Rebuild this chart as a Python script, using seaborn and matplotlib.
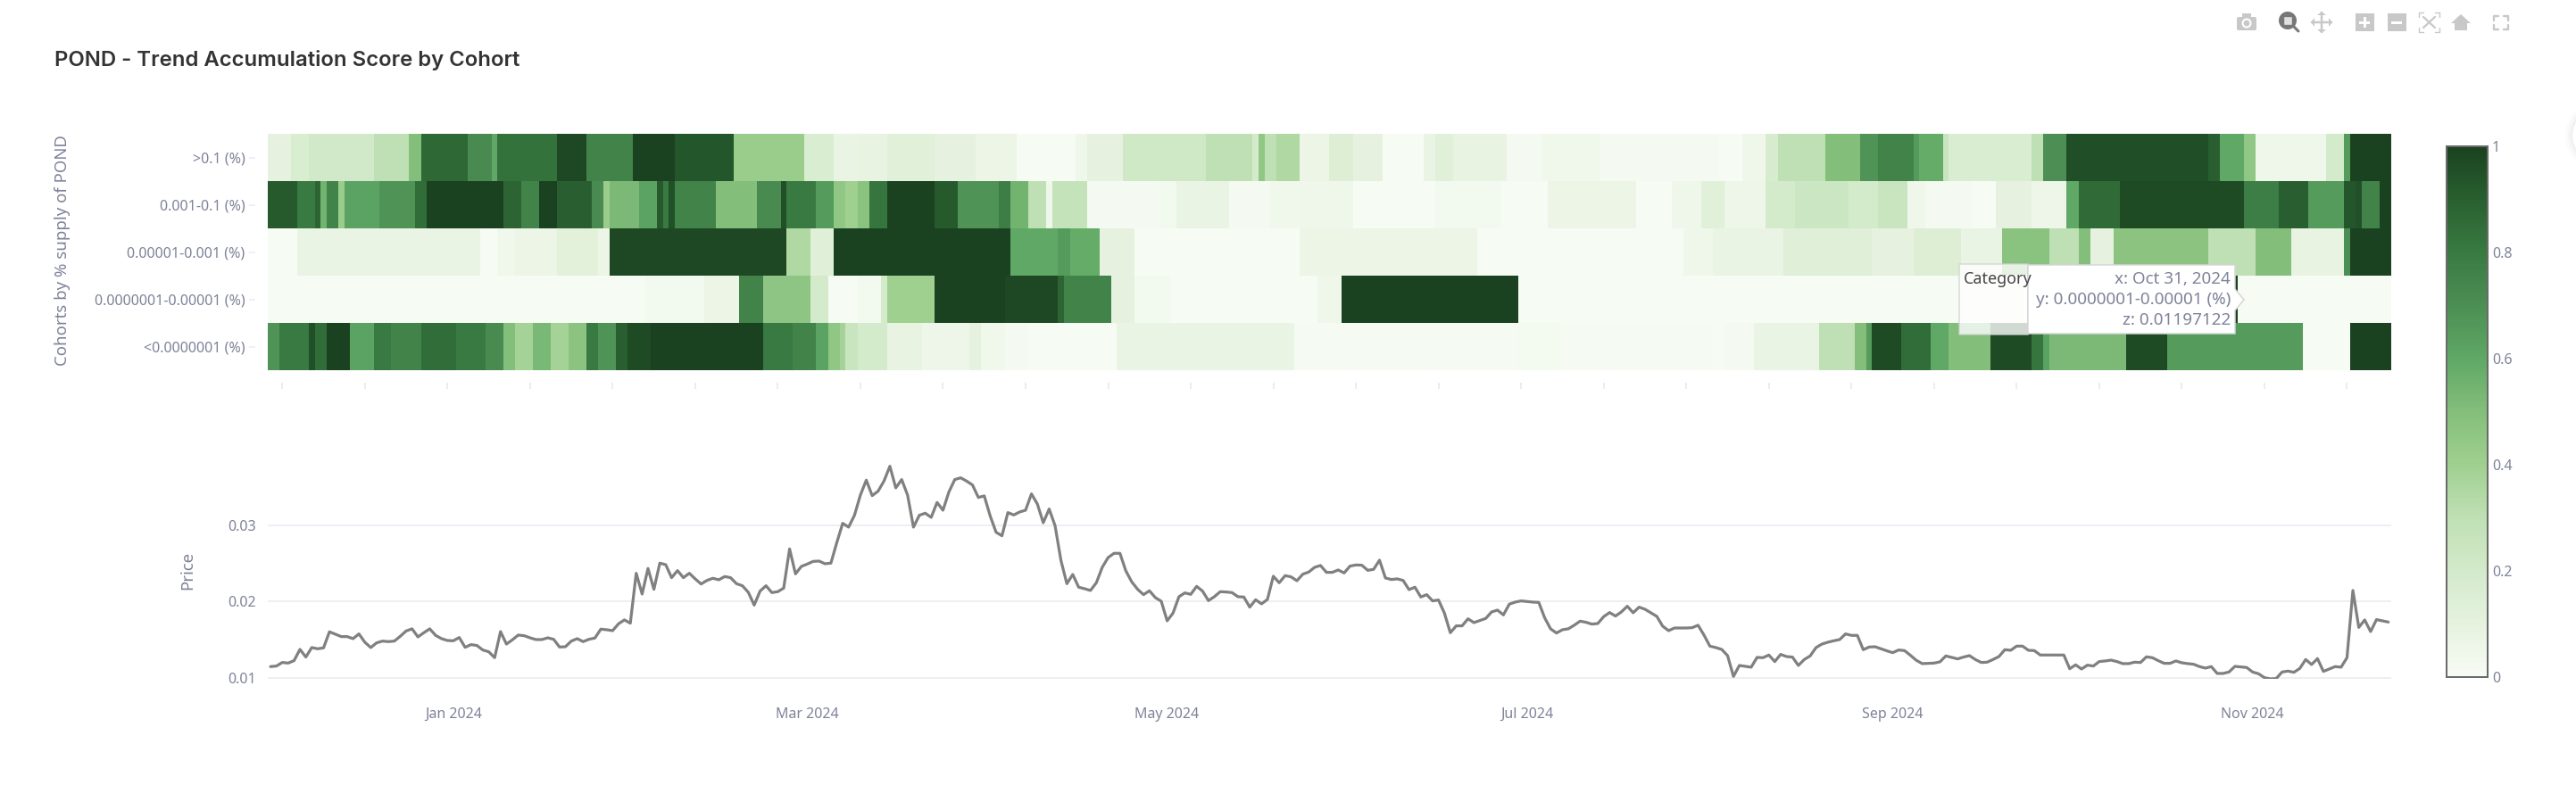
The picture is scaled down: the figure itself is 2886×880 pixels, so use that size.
import numpy as np
import pandas as pd
import matplotlib
matplotlib.use('Agg')
import matplotlib.pyplot as plt
import seaborn as sns
from matplotlib.colors import LinearSegmentedColormap
from matplotlib.patches import Rectangle, FancyBboxPatch, Circle, Polygon

cohorts = ['>0.1 (%)', '0.001-0.1 (%)', '0.00001-0.001 (%)', '0.0000001-0.00001 (%)', '<0.0000001 (%)']
first_day = '2023-12-01'

top_scores = [.10,.17,.21,.30,.50,.87,.72,.60,.83,.98,.75,1,.93,.42,.17,.08,.09,.13,.10,.07,.01,.05,.10,.22,.30,.20,.45,.30,.35,.07,.15,.10,.01,.08,.13,.09,.02,.04,.02,.01,.05,.18,.30,.50,.68,.75,.65,.58,.25,.17,.30,.70,.96,.90,.60,.45,.05,.20,.65,1]
top_days = [4,3,11,6,2,8,4,1,10,5,8,7,10,12,5,4,5,8,7,7,10,2,6,14,8,1,1,2,4,5,4,5,7,2,3,9,6,10,20,4,4,2,8,6,3,6,1,4,1,14,2,4,24,2,4,2,12,3,1,7]

second_scores = [.92,.80,.88,.55,.75,.42,.62,.68,.85,1,.88,.75,1,.90,.72,.42,.52,.62,.92,.80,.95,.75,.50,.72,.95,.80,.65,.45,.40,
                 .48,.82,1,.92,.68,.78,.55,.30,.05,.27,.02,.03,.08,.02,.04,.05,.01,.03,.01,.07,.01,.05,.13,
                 .13,.06,.20,.24,.20,.25,.05,.02,.01,.10,.06,.60,.86,.97,.78,.90,.65,.93,.95,.75,1]
second_days = [5,3,1,1,2,1,6,6,2,13,3,3,3,6,2,1,5,3,1,1,1,7,7,4,1,5,3,2,2,
               2,3,8,4,7,2,3,3,1,6,12,3,9,7,5,9,14,11,8,15,6,5,2,
               2,7,5,9,5,5,3,8,4,6,6,2,7,21,6,5,6,2,1,3,2]

third_scores = [.01,.08,.01,.04,.07,.12,.07,.98,.35,.14,1,.60,.65,.58,.10,.01,.07,.01,.05,.08,.14,.10,.15,.08,.48,.30,.50,.10,.47,.30,.50,.09,.70,1]
third_days = [5,31,3,3,7,7,2,30,4,4,30,8,2,5,6,28,30,35,5,12,15,7,8,7,8,5,2,4,16,8,6,9,1,7]

fourth_scores = [.01,.03,.07,.75,.46,.20,.01,.03,.20,.40,1,.98,.88,.75,.10,.03,.01,.05,1,.01,1,.01]
fourth_days = [64,10,6,4,8,3,5,4,1,8,12,9,1,8,4,6,25,4,30,116,6,26]

fifth_scores = [.68,.80,.95,.85,1,.62,.80,.75,.85,.80,.72,.50,.38,.53,.38,.47,.80,.68,.90,.97,1,.80,.75,.62,.45,.38,.25,
                .20,.09,.06,.10,.04,.02,.01,.08,.015,.025,.012,
                .01,.02,.08,.30,.50,.65,.97,.85,.60,.50,.97,.82,.62,.52,.97,.65,.01,1]
fifth_days = [2,5,1,2,4,4,3,5,6,5,3,2,3,3,3,3,2,3,2,4,19,5,4,2,2,1,2,
              5,6,8,2,4,4,15,30,38,7,26,
              2,5,11,6,2,1,5,5,3,7,7,2,1,13,7,23,8,7]

price = [.01145,.01152,.01199,.01191,.01223,.01371,.01270,.01395,.01379,.01391,
         .01602,.01570,.01539,.01539,.01512,.01574,.01465,.01395,.01457,.01480,
         .01473,.01480,.01543,.01613,.01641,.01535,.01590,.01641,.01555,.01512,
         .01488,.01484,.01527,.01398,.01434,.01422,.01363,.01340,.01262,.01605,
         .01441,.01496,.01559,.01551,.01523,.01500,.01500,.01523,.01504,.01402,
         .01406,.01480,.01512,.01473,.01504,.01520,.01637,.01629,.01617,.01707,
         .01758,.01715,.02371,.02098,.02434,.02160,.02504,.02484,.02313,.02406,
         .02313,.02371,.02297,.02230,.02277,.02305,.02285,.02328,.02313,.02234,
         .02207,.02121,.01953,.02137,.02207,.02117,.02129,.02176,.02691,.02363,
         .02461,.02492,.02527,.02531,.02496,.02504,.02773,.03027,.02977,.03133,
         .03398,.03594,.03391,.03449,.03582,.03777,.03492,.03602,.03398,.02977,
         .03133,.03160,.03105,.03301,.03199,.03438,.03602,.03625,.03582,.03531,
         .03367,.03387,.03125,.02910,.02863,.03168,.03137,.03176,.03199,.03414,
         .03281,.03035,.03215,.02996,.02539,.02234,.02355,.02188,.02168,.02145,
         .02246,.02449,.02578,.02633,.02633,.02402,.02258,.02160,.02090,.02141,
         .02051,.02004,.01746,.01848,.02063,.02113,.02094,.02199,.02137,.02012,
         .02063,.02129,.02125,.02117,.02063,.02059,.01926,.02023,.01969,.02027,
         .02332,.02246,.02340,.02324,.02273,.02359,.02387,.02449,.02473,.02383,
         .02383,.02414,.02375,.02465,.02480,.02477,.02410,.02422,.02543,.02309,
         .02289,.02297,.02277,.02156,.02188,.02059,.02090,.02008,.02020,.01848,
         .01590,.01680,.01680,.01773,.01723,.01750,.01777,.01863,.01887,.01824,
         .01965,.01992,.02008,.02000,.01992,.01988,.01785,.01641,.01586,.01629,
         .01641,.01688,.01742,.01727,.01703,.01711,.01801,.01855,.01809,.01863,
         .01938,.01852,.01926,.01898,.01852,.01805,.01676,.01617,.01652,.01652,
         .01652,.01656,.01688,.01559,.01414,.01395,.01371,.01289,.01016,.01160,
         .01148,.01137,.01266,.01262,.01297,.01211,.01305,.01277,.01270,.01160,
         .01238,.01285,.01395,.01441,.01465,.01484,.01500,.01574,.01555,.01555,
         .01367,.01402,.01406,.01379,.01352,.01328,.01363,.01355,.01293,.01227,
         .01184,.01188,.01191,.01207,.01285,.01266,.01246,.01270,.01289,.01238,
         .01199,.01203,.01238,.01277,.01367,.01359,.01414,.01414,.01359,.01355,
         .01297,.01297,.01297,.01297,.01297,.01117,.01168,.01113,.01164,.01152,
         .01211,.01219,.01230,.01211,.01184,.01184,.01203,.01199,.01273,.01262,
         .01223,.01188,.01188,.01219,.01195,.01184,.01176,.01145,.01125,.01145,
         .01055,.01055,.01074,.01148,.01141,.01133,.01074,.01051,.01000,.00984,
         .00988,.01074,.01086,.01070,.01121,.01238,.01172,.01250,.01082,.01113,
         .01145,.01137,.01262,.02145,.01660,.01758,.01605,.01762,.01746,.01730]

month_ticks = ['2024-01-01', '2024-03-01', '2024-05-01', '2024-07-01', '2024-09-01', '2024-11-01']
month_labels = ['Jan 2024', 'Mar 2024', 'May 2024', 'Jul 2024', 'Sep 2024', 'Nov 2024']
price_ticks = [0.01, 0.02, 0.03]
cbar_ticks = [0, 0.2, 0.4, 0.6, 0.8, 1]
cbar_labels = ['0', '0.2', '0.4', '0.6', '0.8', '1']

sns.set_theme(style='white')
plt.rcParams['font.family'] = ['Noto Sans', 'DejaVu Sans']

W, H = 2886, 880
PT = 0.72  # one pixel in points at dpi 100
TICK = '#7f8299'
GRID = '#e9ecf2'


def box(x0, y0, x1, y1):
    return [x0 / W, 1 - y1 / H, (x1 - x0) / W, (y1 - y0) / H]


greens = LinearSegmentedColormap.from_list('pond', [
    (0, '#f7fcf5'), (.1, '#e6f2df'), (.2, '#d3eacb'), (.3, '#bfe0b4'), (.4, '#9fd090'),
    (.5, '#84be7b'), (.6, '#5fa865'), (.7, '#4c8e54'), (.8, '#397a42'), (.9, '#296030'), (1, '#1a4220')])

dates = pd.date_range(first_day, periods=len(price))
scores = pd.DataFrame(
    [np.repeat(top_scores, top_days), np.repeat(second_scores, second_days),
     np.repeat(third_scores, third_days), np.repeat(fourth_scores, fourth_days),
     np.repeat(fifth_scores, fifth_days)],
    index=cohorts, columns=dates)

fig = plt.figure(figsize=(W / 100, H / 100), dpi=100, facecolor='white')
ax_heat = fig.add_axes(box(299.7, 150, 2679, 415))
ax_line = fig.add_axes(box(299.7, 520, 2679, 761))
ax_cbar = fig.add_axes(box(2741, 164, 2787, 759))

sns.heatmap(scores, ax=ax_heat, cbar_ax=ax_cbar, cmap=greens, vmin=0, vmax=1,
            cbar_kws={'ticks': cbar_ticks})
ax_heat.set_xlabel('')
ax_heat.set_ylabel('')
ax_heat.spines['bottom'].set_position(('outward', 14 * PT))
ax_heat.spines['left'].set_position(('outward', 14 * PT))
ax_heat.set_xticks(np.arange(2.5, 360, 14))
ax_heat.set_xticklabels([])
ax_heat.set_yticklabels(cohorts, rotation=0)
ax_heat.tick_params(axis='x', length=7 * PT, width=2 * PT, color=GRID, bottom=True)
ax_heat.tick_params(axis='y', length=7 * PT, width=1.5 * PT, color=GRID, left=True,
                    pad=4 * PT, labelsize=16 * PT, labelcolor=TICK)

cbar = ax_heat.collections[0].colorbar
cbar.set_ticklabels(cbar_labels)
cbar.ax.tick_params(length=0, pad=5 * PT, labelsize=16 * PT, labelcolor=TICK)
cbar.outline.set_visible(True)
cbar.outline.set_edgecolor('#6a6a6a')
cbar.outline.set_linewidth(2 * PT)

sns.lineplot(x=dates, y=price, ax=ax_line, color='#808080', linewidth=3.2 * PT)
ax_line.set_xlim(dates[0] - pd.Timedelta(hours=12), dates[-1] + pd.Timedelta(hours=12))
ax_line.set_ylim(0.00984, 0.03808)
ax_line.set_xticks(pd.to_datetime(month_ticks))
ax_line.set_xticklabels(month_labels)
ax_line.set_yticks(price_ticks)
ax_line.set_yticklabels([f'{t:.2f}' for t in price_ticks])
ax_line.set_xlabel('')
ax_line.set_ylabel('')
ax_line.grid(axis='y', color=GRID, linewidth=1.6 * PT)
ax_line.set_axisbelow(True)
ax_line.tick_params(axis='x', length=0, pad=32 * PT, labelsize=16 * PT, labelcolor=TICK)
ax_line.tick_params(axis='y', length=0, pad=13 * PT, labelsize=16 * PT, labelcolor=TICK)
for s in ax_line.spines.values():
    s.set_visible(False)

# overlay in pixel coordinates for the title, axis titles, tooltip and toolbar
ov = fig.add_axes([0, 0, 1, 1], zorder=10)
ov.set_xlim(0, W)
ov.set_ylim(H, 0)
ov.axis('off')
ov.patch.set_alpha(0)

ov.text(61, 67.5, 'POND - Trend Accumulation Score by Cohort', fontsize=23.9 * PT, family='Inter',
        weight='semibold', color='#333333', va='center', ha='left')
ov.text(70, 281, 'Cohorts by % supply of POND', fontsize=18.6 * PT, color=TICK, rotation=90,
        va='center', ha='center')
ov.text(210, 639, 'Price', fontsize=18.6 * PT, color=TICK, rotation=90, va='center', ha='center')

# hover tooltip
ov.add_patch(Rectangle((2195, 296), 77, 79, fc='white', ec='#cfd3d0', lw=1.5 * PT, alpha=0.8))
ov.add_patch(Polygon([(2272, 297), (2504, 297), (2504, 324), (2514, 336), (2504, 348), (2504, 374), (2272, 374)],
                     closed=True, fc='white', ec='#d6d6d6', lw=1.5 * PT))
ov.text(2200, 313, 'Category', fontsize=18 * PT, color='#444444', va='center', ha='left')
for y, line in zip([313, 336, 359], ['x: Oct 31, 2024', 'y: 0.0000001-0.00001 (%)', 'z: 0.01197122']):
    ov.text(2499, y, line, fontsize=18.8 * PT, color=TICK, va='center', ha='right')

# plotly mode bar
ICON = '#c8c8c8'
ov.add_patch(FancyBboxPatch((2506, 19), 22, 15, boxstyle='round,pad=0,rounding_size=2', fc=ICON, ec='none'))
ov.add_patch(Rectangle((2512, 15.5), 10, 4, fc=ICON, ec='none'))
ov.add_patch(Circle((2517, 26), 5.5, fc='white', ec='none'))
ov.add_patch(Circle((2517, 26), 3.4, fc=ICON, ec='none'))

ov.add_patch(Circle((2563, 23), 10, fc='#777777', ec='none'))
ov.add_patch(Rectangle((2558, 18), 10, 10, fc='#e0e0e0', ec='#777777', lw=1))
ov.plot([2570, 2575], [30, 35], color='#777777', lw=3 * PT, solid_capstyle='round')

ov.plot([2590, 2612], [25, 25], color=ICON, lw=2.5 * PT)
ov.plot([2601, 2601], [14, 36], color=ICON, lw=2.5 * PT)
for tri in ([(2596, 17), (2606, 17), (2601, 13)], [(2596, 33), (2606, 33), (2601, 37)],
            [(2593, 20), (2593, 30), (2589, 25)], [(2609, 20), (2609, 30), (2613, 25)]):
    ov.add_patch(Polygon(tri, fc=ICON, ec='none'))

ov.add_patch(Rectangle((2639, 15), 21, 20, fc=ICON, ec='none'))
ov.add_patch(Rectangle((2648, 19), 3, 12, fc='white', ec='none'))
ov.add_patch(Rectangle((2643, 24), 12, 3, fc='white', ec='none'))
ov.add_patch(Rectangle((2675, 15), 21, 20, fc=ICON, ec='none'))
ov.add_patch(Rectangle((2679, 24), 12, 3, fc='white', ec='none'))

for x, y, dx, dy in [(2710, 14, 1, 1), (2733, 14, -1, 1), (2710, 36, 1, -1), (2733, 36, -1, -1)]:
    ov.plot([x, x, x + 5 * dx], [y + 5 * dy, y, y], color=ICON, lw=1.4 * PT)
    ov.plot([x + 5 * dx, x + 11 * dx], [y + 5 * dy, y + 11 * dy * 0.95], color=ICON, lw=2.2 * PT)

ov.add_patch(Polygon([(2746, 26), (2757, 16), (2768, 26), (2764, 26), (2764, 34), (2750, 34), (2750, 26)], fc=ICON, ec='none'))
for x, y, dx, dy in [(2794, 18, 1, 1), (2810, 18, -1, 1), (2794, 33, 1, -1), (2810, 33, -1, -1)]:
    ov.plot([x, x, x + 5 * dx], [y + 5 * dy, y, y], color=ICON, lw=2.4 * PT)

# edge of a round page widget with a faint shadow
for r, a in [(38, .015), (35, .02), (32, .03)]:
    ov.add_patch(Circle((2912, 152), r, fc='black', ec='none', alpha=a))
ov.add_patch(Circle((2912, 152), 30, fc='white', ec='none'))

fig.savefig('out.png', dpi=100)
